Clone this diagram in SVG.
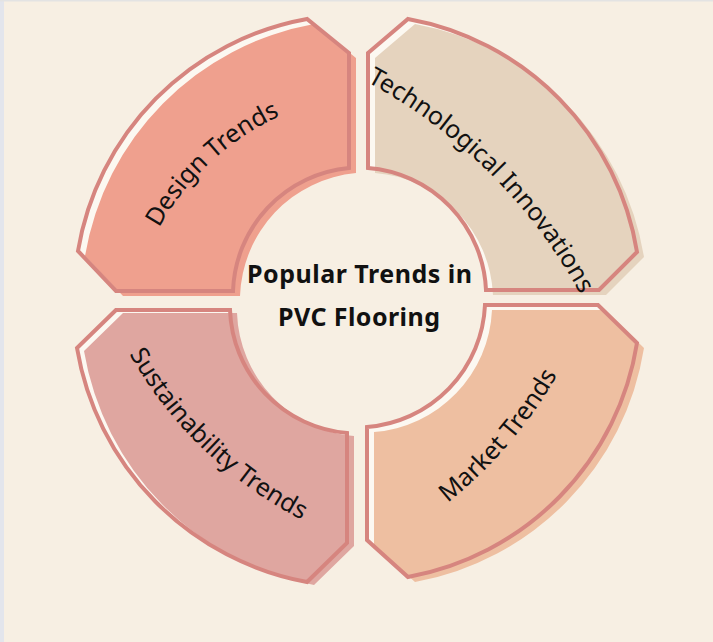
<svg xmlns="http://www.w3.org/2000/svg" xmlns:xlink="http://www.w3.org/1999/xlink" width="713" height="642" viewBox="0 0 713 642">
<style>
.bg{fill:#f7efe3}
.under{fill:#fcf8f1;stroke:none}
.line{fill:none;stroke:#d6857f;stroke-width:4;stroke-linejoin:miter}
.lbl{font-family:"Noto Sans","Open Sans","DejaVu Sans",sans-serif;font-size:25px;fill:#111}
.title{font-family:"Noto Sans","DejaVu Sans",sans-serif;font-size:25px;font-weight:700;fill:#111;text-anchor:middle}
</style>
<defs>
<path id="shTL" d="M349,53 L307,19 A283,283 0 0 0 78,251 L116,291 L233,291 A128,128 0 0 1 349,168 Z"/>
<path id="shTR" d="M368,53 L408,19 A283,283 0 0 1 637,252 L599,290 L486,290 A128,128 0 0 0 368,168 Z"/>
<path id="shBL" d="M116,310 L77,348 A286,286 0 0 0 307,582 L347,543 L347,433 A128,128 0 0 1 230,310 Z"/>
<path id="shBR" d="M485,305 L598,305 L637,343 A283,283 0 0 1 408,577 L367,540 L367,427 A128,128 0 0 0 485,305 Z"/>
<path id="tpTL" d="M133.1,294.5 A265,265 0 0 1 348.3,95.0"/>
<path id="tpTR" d="M264.6,39.8 A530,530 0 0 1 622.9,396.2"/>
<path id="tpBL" d="M92.2,266.8 A420,420 0 0 0 390.2,553.6"/>
<path id="tpBR" d="M365.4,555.1 A450,450 0 0 0 596.4,285.6"/>
</defs>
<rect class="bg" x="0" y="0" width="713" height="642"/>
<rect x="0" y="0" width="4" height="642" fill="#e3e5ec"/>
<rect x="0" y="0" width="713" height="1.5" fill="#e3e3e3"/>
<g id="connectors"/>
<g id="node-design">
<use href="#shTL" class="under"/>
<use href="#shTL" transform="translate(7,5)" fill="#efa08e"/>
<use href="#shTL" class="line"/>
<text class="lbl"><textPath href="#tpTL" startOffset="50%" text-anchor="middle">Design Trends</textPath></text>
</g>
<g id="node-tech">
<use href="#shTR" class="under"/>
<use href="#shTR" transform="translate(7,5)" fill="#e5d3be"/>
<use href="#shTR" class="line"/>
<text class="lbl"><textPath href="#tpTR" startOffset="50%" text-anchor="middle">Technological Innovations</textPath></text>
</g>
<g id="node-sustainability">
<use href="#shBL" class="under"/>
<use href="#shBL" transform="translate(7,3)" fill="#dfa6a0"/>
<use href="#shBL" class="line"/>
<text class="lbl"><textPath href="#tpBL" startOffset="50%" text-anchor="middle">Sustainability Trends</textPath></text>
</g>
<g id="node-market">
<use href="#shBR" class="under"/>
<use href="#shBR" transform="translate(7,5)" fill="#eebfa1"/>
<use href="#shBR" class="line"/>
<text class="lbl"><textPath href="#tpBR" startOffset="50%" text-anchor="middle">Market Trends</textPath></text>
</g>
<g id="node-center">
<text class="title" x="359.5" y="283" textLength="225" lengthAdjust="spacing">Popular Trends in</text>
<text class="title" x="359" y="326" textLength="162" lengthAdjust="spacing">PVC Flooring</text>
</g>
</svg>
